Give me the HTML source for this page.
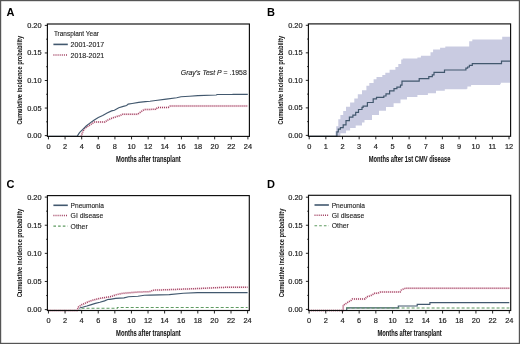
<!DOCTYPE html><html><head><meta charset="utf-8"><style>
html,body{margin:0;padding:0;background:#fff;}
svg{display:block;will-change:transform;}
.tk{font-family:"Liberation Sans", sans-serif;font-size:7.4px;fill:#1c1c1c;stroke:#1c1c1c;stroke-width:0.18px;}
.al{font-family:"Liberation Sans", sans-serif;font-size:8.2px;font-weight:bold;fill:#151515;stroke:#151515;stroke-width:0.06px;}
.yl{font-size:8px;stroke-width:0.05px;}
.lg{font-family:"Liberation Sans", sans-serif;font-size:7.4px;fill:#1c1c1c;stroke:#1c1c1c;stroke-width:0.12px;}
.pl{font-family:"Liberation Sans", sans-serif;font-size:11px;font-weight:bold;fill:#000;}
</style></head><body>
<svg width="520" height="344" viewBox="0 0 520 344">
<rect x="0" y="0" width="520" height="344" fill="#fff"/>
<path d="M334.80,136.30 L335.50,136.30 L335.50,131.00 L336.20,131.00 L336.20,126.30 L338.30,126.30 L338.30,119.30 L340.40,119.30 L340.40,115.10 L343.20,115.10 L343.20,110.90 L346.00,110.90 L346.00,106.70 L350.10,106.70 L350.10,102.60 L354.30,102.60 L354.30,98.40 L357.80,98.40 L357.80,94.20 L362.00,94.20 L362.00,90.20 L366.40,90.20 L366.40,85.80 L369.30,85.80 L369.30,82.90 L373.60,82.90 L373.60,79.30 L376.50,79.30 L376.50,77.10 L382.30,77.10 L382.30,74.90 L385.30,74.90 L385.30,72.70 L389.60,72.70 L389.60,69.80 L395.40,69.80 L395.40,66.90 L398.30,66.90 L398.30,64.00 L401.20,64.00 L401.20,59.60 L402.70,59.60 L402.70,58.50 L417.40,58.50 L417.40,57.40 L420.90,57.40 L420.90,55.70 L430.50,55.70 L430.50,52.20 L433.10,52.20 L433.10,49.60 L440.10,49.60 L440.10,47.80 L445.30,47.80 L445.30,46.60 L467.20,46.60 L467.20,46.40 L469.20,46.40 L469.20,41.30 L472.30,41.30 L472.30,39.40 L501.30,39.40 L501.30,39.40 L502.20,39.40 L502.20,36.70 L510.40,36.70 L510.40,36.70 L510.40,82.60 L510.40,82.80 L500.80,82.80 L500.80,84.20 L500.00,84.20 L500.00,85.00 L471.10,85.00 L471.10,86.60 L467.40,86.60 L467.40,88.80 L466.70,88.80 L466.70,89.20 L444.80,89.20 L444.80,90.80 L436.00,90.80 L436.00,93.20 L427.90,93.20 L427.90,95.00 L417.40,95.00 L417.40,96.90 L407.00,96.90 L407.00,99.50 L400.50,99.50 L400.50,103.20 L393.60,103.20 L393.60,107.00 L386.00,107.00 L386.00,110.80 L379.00,110.80 L379.00,115.00 L372.00,115.00 L372.00,120.00 L364.50,120.00 L364.50,122.50 L362.00,122.50 L362.00,125.40 L355.70,125.40 L355.70,128.00 L350.10,128.00 L350.10,130.50 L346.00,130.50 L346.00,133.30 L340.40,133.30 L340.40,136.30 L334.80,136.30Z" fill="#c9cbe1" stroke="none"/>
<path d="M81.20,136.40 L82.80,131.50 L85.00,128.20 L88.40,126.00 L91.70,123.80 L94.40,122.10 L104.90,122.10 L107.10,120.40 L110.50,118.80 L113.80,117.50 L116.60,116.60 L120.50,115.40 L122.20,114.30 L137.60,114.30 L139.80,112.70 L142.00,111.00 L144.30,109.50 L155.60,109.30 L157.70,107.50 L168.30,107.40 L170.40,106.00 L247.80,106.00" fill="none" stroke="#fbeef2" stroke-width="2.4"/>
<path d="M81.20,136.40 L82.80,131.50 L85.00,128.20 L88.40,126.00 L91.70,123.80 L94.40,122.10 L104.90,122.10 L107.10,120.40 L110.50,118.80 L113.80,117.50 L116.60,116.60 L120.50,115.40 L122.20,114.30 L137.60,114.30 L139.80,112.70 L142.00,111.00 L144.30,109.50 L155.60,109.30 L157.70,107.50 L168.30,107.40 L170.40,106.00 L247.80,106.00" fill="none" stroke="#a03f60" stroke-width="1.5" stroke-dasharray="1 1"/>
<path d="M48.40,136.40 L77.10,136.40 L79.50,132.60 L82.80,129.30 L86.20,126.00 L89.50,123.40 L93.90,120.20 L98.30,117.40 L102.70,115.40 L107.10,112.90 L111.60,110.90 L114.40,110.20 L118.80,107.70 L123.30,106.40 L126.60,105.50 L128.20,104.10 L132.10,103.50 L138.70,102.40 L145.40,101.60 L150.00,101.20 L155.60,100.50 L166.20,99.10 L176.70,97.70 L181.00,96.70 L189.40,96.20 L197.90,95.60 L216.20,95.00 L217.20,94.50 L232.00,94.50 L233.10,94.30 L247.80,94.30" fill="none" stroke="#42586e" stroke-width="1.15"/>
<path d="M309.20,136.30H334.80V136.30H336.90V131.90H338.30V129.10H340.40V127.70H343.20V124.90H346.00V120.70H349.40V117.20H352.90V115.10H355.70V112.30H358.50V109.50H362.00V107.40H363.10V106.20H367.40V102.50H373.20V98.90H376.50V97.40H383.80V96.00H386.00V93.80H389.60V90.90H394.00V88.70H396.90V87.20H400.50V85.10H402.00V81.20H418.30V81.20H419.20V78.70H427.90V78.70H428.80V76.60H432.30V74.90H434.00V72.30H443.60V72.30H444.50V70.00H465.30V70.00H465.90V68.20H467.60V67.00H469.40V65.30H472.30V63.60H500.80V63.60H501.50V61.20H510.40V61.20" fill="none" stroke="#42586e" stroke-width="1.2"/>
<path d="M48.40,310.20 L81.50,310.20 L81.50,308.30 L117.40,308.30 L117.40,307.50 L247.60,307.50" fill="none" stroke="#5e9a60" stroke-width="1.1" stroke-dasharray="3 2"/>
<path d="M48.40,310.50 L77.10,310.50 L79.40,307.90 L83.20,307.00 L86.90,306.00 L90.60,304.90 L95.30,303.40 L99.90,302.30 L104.60,300.90 L108.30,299.30 L110.00,299.30 L115.60,298.40 L124.00,297.90 L128.60,296.70 L137.90,296.30 L144.40,295.30 L150.00,295.10 L169.20,294.60 L183.40,293.20 L197.50,292.60 L247.60,292.60" fill="none" stroke="#42586e" stroke-width="1.15"/>
<path d="M48.40,310.50 L77.10,310.50 L78.50,307.00 L81.30,304.90 L85.00,303.30 L88.70,301.60 L92.50,300.30 L96.20,299.30 L99.90,298.40 L103.60,297.70 L107.30,297.20 L111.10,296.60 L115.60,294.90 L121.20,293.50 L128.60,292.80 L137.90,292.10 L150.00,291.60 L153.00,290.20 L181.30,289.20 L205.60,288.20 L221.70,287.40 L247.60,287.20" fill="none" stroke="#fbeef2" stroke-width="2.4"/>
<path d="M48.40,310.50 L77.10,310.50 L78.50,307.00 L81.30,304.90 L85.00,303.30 L88.70,301.60 L92.50,300.30 L96.20,299.30 L99.90,298.40 L103.60,297.70 L107.30,297.20 L111.10,296.60 L115.60,294.90 L121.20,293.50 L128.60,292.80 L137.90,292.10 L150.00,291.60 L153.00,290.20 L181.30,289.20 L205.60,288.20 L221.70,287.40 L247.60,287.20" fill="none" stroke="#a03f60" stroke-width="1.5" stroke-dasharray="1 1"/>
<path d="M309.10,310.50 L346.70,310.50 L346.70,307.80 L398.30,307.80 L398.30,306.00 L417.20,306.00 L417.20,304.30 L429.90,304.30 L429.90,302.60 L509.30,302.60" fill="none" stroke="#42586e" stroke-width="1.15"/>
<path d="M309.10,310.50 L346.70,310.50 L346.70,308.00 L509.30,308.00" fill="none" stroke="#5e9a60" stroke-width="1.1" stroke-dasharray="3 2"/>
<path d="M309.10,310.50 L343.20,310.50 L343.20,305.50 L345.00,304.20 L347.60,302.50 L351.10,300.30 L352.40,299.00 L365.00,299.00 L366.80,296.80 L369.40,296.00 L372.00,295.10 L374.60,293.30 L378.00,293.20 L380.70,291.90 L400.20,291.90 L401.10,290.20 L403.90,288.80 L405.80,288.20 L509.30,288.20" fill="none" stroke="#fbeef2" stroke-width="2.4"/>
<path d="M309.10,310.50 L343.20,310.50 L343.20,305.50 L345.00,304.20 L347.60,302.50 L351.10,300.30 L352.40,299.00 L365.00,299.00 L366.80,296.80 L369.40,296.00 L372.00,295.10 L374.60,293.30 L378.00,293.20 L380.70,291.90 L400.20,291.90 L401.10,290.20 L403.90,288.80 L405.80,288.20 L509.30,288.20" fill="none" stroke="#a03f60" stroke-width="1.5" stroke-dasharray="1 1"/>
<rect x="47.4" y="24.0" width="202.00" height="112.40" fill="none" stroke="#0d0d0d" stroke-width="1.15"/>
<line x1="44.80" y1="135.60" x2="47.4" y2="135.60" stroke="#0d0d0d" stroke-width="0.9"/>
<text x="41.60" y="138.10" text-anchor="end" class="tk">0.00</text>
<line x1="46.20" y1="121.82" x2="47.4" y2="121.82" stroke="#0d0d0d" stroke-width="0.9"/>
<line x1="44.80" y1="108.05" x2="47.4" y2="108.05" stroke="#0d0d0d" stroke-width="0.9"/>
<text x="41.60" y="110.55" text-anchor="end" class="tk">0.05</text>
<line x1="46.20" y1="94.28" x2="47.4" y2="94.28" stroke="#0d0d0d" stroke-width="0.9"/>
<line x1="44.80" y1="80.50" x2="47.4" y2="80.50" stroke="#0d0d0d" stroke-width="0.9"/>
<text x="41.60" y="83.00" text-anchor="end" class="tk">0.10</text>
<line x1="46.20" y1="66.73" x2="47.4" y2="66.73" stroke="#0d0d0d" stroke-width="0.9"/>
<line x1="44.80" y1="52.95" x2="47.4" y2="52.95" stroke="#0d0d0d" stroke-width="0.9"/>
<text x="41.60" y="55.45" text-anchor="end" class="tk">0.15</text>
<line x1="46.20" y1="39.18" x2="47.4" y2="39.18" stroke="#0d0d0d" stroke-width="0.9"/>
<line x1="44.80" y1="25.40" x2="47.4" y2="25.40" stroke="#0d0d0d" stroke-width="0.9"/>
<text x="41.60" y="27.90" text-anchor="end" class="tk">0.20</text>
<line x1="48.45" y1="136.4" x2="48.45" y2="139.40" stroke="#0d0d0d" stroke-width="0.9"/>
<text x="48.45" y="149.10" text-anchor="middle" class="tk">0</text>
<line x1="65.07" y1="136.4" x2="65.07" y2="139.40" stroke="#0d0d0d" stroke-width="0.9"/>
<text x="65.07" y="149.10" text-anchor="middle" class="tk">2</text>
<line x1="81.69" y1="136.4" x2="81.69" y2="139.40" stroke="#0d0d0d" stroke-width="0.9"/>
<text x="81.69" y="149.10" text-anchor="middle" class="tk">4</text>
<line x1="98.31" y1="136.4" x2="98.31" y2="139.40" stroke="#0d0d0d" stroke-width="0.9"/>
<text x="98.31" y="149.10" text-anchor="middle" class="tk">6</text>
<line x1="114.93" y1="136.4" x2="114.93" y2="139.40" stroke="#0d0d0d" stroke-width="0.9"/>
<text x="114.93" y="149.10" text-anchor="middle" class="tk">8</text>
<line x1="131.55" y1="136.4" x2="131.55" y2="139.40" stroke="#0d0d0d" stroke-width="0.9"/>
<text x="131.55" y="149.10" text-anchor="middle" class="tk">10</text>
<line x1="148.17" y1="136.4" x2="148.17" y2="139.40" stroke="#0d0d0d" stroke-width="0.9"/>
<text x="148.17" y="149.10" text-anchor="middle" class="tk">12</text>
<line x1="164.80" y1="136.4" x2="164.80" y2="139.40" stroke="#0d0d0d" stroke-width="0.9"/>
<text x="164.80" y="149.10" text-anchor="middle" class="tk">14</text>
<line x1="181.42" y1="136.4" x2="181.42" y2="139.40" stroke="#0d0d0d" stroke-width="0.9"/>
<text x="181.42" y="149.10" text-anchor="middle" class="tk">16</text>
<line x1="198.04" y1="136.4" x2="198.04" y2="139.40" stroke="#0d0d0d" stroke-width="0.9"/>
<text x="198.04" y="149.10" text-anchor="middle" class="tk">18</text>
<line x1="214.66" y1="136.4" x2="214.66" y2="139.40" stroke="#0d0d0d" stroke-width="0.9"/>
<text x="214.66" y="149.10" text-anchor="middle" class="tk">20</text>
<line x1="231.28" y1="136.4" x2="231.28" y2="139.40" stroke="#0d0d0d" stroke-width="0.9"/>
<text x="231.28" y="149.10" text-anchor="middle" class="tk">22</text>
<line x1="247.90" y1="136.4" x2="247.90" y2="139.40" stroke="#0d0d0d" stroke-width="0.9"/>
<text x="247.90" y="149.10" text-anchor="middle" class="tk">24</text>
<text x="148.40" y="161.90" text-anchor="middle" class="al" textLength="64.6" lengthAdjust="spacingAndGlyphs">Months after transplant</text>
<text transform="translate(22.40,80.20) rotate(-90)" x="0" y="0" text-anchor="middle" class="al yl" textLength="88.6" lengthAdjust="spacingAndGlyphs">Cumulative incidence probability</text>
<rect x="308.4" y="23.9" width="202.20" height="112.40" fill="none" stroke="#0d0d0d" stroke-width="1.15"/>
<line x1="305.80" y1="135.40" x2="308.4" y2="135.40" stroke="#0d0d0d" stroke-width="0.9"/>
<text x="302.60" y="137.90" text-anchor="end" class="tk">0.00</text>
<line x1="307.20" y1="121.64" x2="308.4" y2="121.64" stroke="#0d0d0d" stroke-width="0.9"/>
<line x1="305.80" y1="107.88" x2="308.4" y2="107.88" stroke="#0d0d0d" stroke-width="0.9"/>
<text x="302.60" y="110.38" text-anchor="end" class="tk">0.05</text>
<line x1="307.20" y1="94.11" x2="308.4" y2="94.11" stroke="#0d0d0d" stroke-width="0.9"/>
<line x1="305.80" y1="80.35" x2="308.4" y2="80.35" stroke="#0d0d0d" stroke-width="0.9"/>
<text x="302.60" y="82.85" text-anchor="end" class="tk">0.10</text>
<line x1="307.20" y1="66.59" x2="308.4" y2="66.59" stroke="#0d0d0d" stroke-width="0.9"/>
<line x1="305.80" y1="52.83" x2="308.4" y2="52.83" stroke="#0d0d0d" stroke-width="0.9"/>
<text x="302.60" y="55.33" text-anchor="end" class="tk">0.15</text>
<line x1="307.20" y1="39.06" x2="308.4" y2="39.06" stroke="#0d0d0d" stroke-width="0.9"/>
<line x1="305.80" y1="25.30" x2="308.4" y2="25.30" stroke="#0d0d0d" stroke-width="0.9"/>
<text x="302.60" y="27.80" text-anchor="end" class="tk">0.20</text>
<line x1="309.20" y1="136.3" x2="309.20" y2="139.30" stroke="#0d0d0d" stroke-width="0.9"/>
<text x="309.20" y="149.00" text-anchor="middle" class="tk">0</text>
<line x1="325.85" y1="136.3" x2="325.85" y2="139.30" stroke="#0d0d0d" stroke-width="0.9"/>
<text x="325.85" y="149.00" text-anchor="middle" class="tk">1</text>
<line x1="342.50" y1="136.3" x2="342.50" y2="139.30" stroke="#0d0d0d" stroke-width="0.9"/>
<text x="342.50" y="149.00" text-anchor="middle" class="tk">2</text>
<line x1="359.15" y1="136.3" x2="359.15" y2="139.30" stroke="#0d0d0d" stroke-width="0.9"/>
<text x="359.15" y="149.00" text-anchor="middle" class="tk">3</text>
<line x1="375.80" y1="136.3" x2="375.80" y2="139.30" stroke="#0d0d0d" stroke-width="0.9"/>
<text x="375.80" y="149.00" text-anchor="middle" class="tk">4</text>
<line x1="392.45" y1="136.3" x2="392.45" y2="139.30" stroke="#0d0d0d" stroke-width="0.9"/>
<text x="392.45" y="149.00" text-anchor="middle" class="tk">5</text>
<line x1="409.10" y1="136.3" x2="409.10" y2="139.30" stroke="#0d0d0d" stroke-width="0.9"/>
<text x="409.10" y="149.00" text-anchor="middle" class="tk">6</text>
<line x1="425.75" y1="136.3" x2="425.75" y2="139.30" stroke="#0d0d0d" stroke-width="0.9"/>
<text x="425.75" y="149.00" text-anchor="middle" class="tk">7</text>
<line x1="442.40" y1="136.3" x2="442.40" y2="139.30" stroke="#0d0d0d" stroke-width="0.9"/>
<text x="442.40" y="149.00" text-anchor="middle" class="tk">8</text>
<line x1="459.05" y1="136.3" x2="459.05" y2="139.30" stroke="#0d0d0d" stroke-width="0.9"/>
<text x="459.05" y="149.00" text-anchor="middle" class="tk">9</text>
<line x1="475.70" y1="136.3" x2="475.70" y2="139.30" stroke="#0d0d0d" stroke-width="0.9"/>
<text x="475.70" y="149.00" text-anchor="middle" class="tk">10</text>
<line x1="492.35" y1="136.3" x2="492.35" y2="139.30" stroke="#0d0d0d" stroke-width="0.9"/>
<text x="492.35" y="149.00" text-anchor="middle" class="tk">11</text>
<line x1="509.00" y1="136.3" x2="509.00" y2="139.30" stroke="#0d0d0d" stroke-width="0.9"/>
<text x="509.00" y="149.00" text-anchor="middle" class="tk">12</text>
<text x="409.50" y="161.80" text-anchor="middle" class="al" textLength="81.7" lengthAdjust="spacingAndGlyphs">Months after 1st CMV disease</text>
<text transform="translate(283.40,80.10) rotate(-90)" x="0" y="0" text-anchor="middle" class="al yl" textLength="88.6" lengthAdjust="spacingAndGlyphs">Cumulative incidence probability</text>
<rect x="47.4" y="195.6" width="201.90" height="114.90" fill="none" stroke="#0d0d0d" stroke-width="1.15"/>
<line x1="44.80" y1="309.60" x2="47.4" y2="309.60" stroke="#0d0d0d" stroke-width="0.9"/>
<text x="41.60" y="312.10" text-anchor="end" class="tk">0.00</text>
<line x1="46.20" y1="295.54" x2="47.4" y2="295.54" stroke="#0d0d0d" stroke-width="0.9"/>
<line x1="44.80" y1="281.48" x2="47.4" y2="281.48" stroke="#0d0d0d" stroke-width="0.9"/>
<text x="41.60" y="283.98" text-anchor="end" class="tk">0.05</text>
<line x1="46.20" y1="267.41" x2="47.4" y2="267.41" stroke="#0d0d0d" stroke-width="0.9"/>
<line x1="44.80" y1="253.35" x2="47.4" y2="253.35" stroke="#0d0d0d" stroke-width="0.9"/>
<text x="41.60" y="255.85" text-anchor="end" class="tk">0.10</text>
<line x1="46.20" y1="239.29" x2="47.4" y2="239.29" stroke="#0d0d0d" stroke-width="0.9"/>
<line x1="44.80" y1="225.23" x2="47.4" y2="225.23" stroke="#0d0d0d" stroke-width="0.9"/>
<text x="41.60" y="227.73" text-anchor="end" class="tk">0.15</text>
<line x1="46.20" y1="211.16" x2="47.4" y2="211.16" stroke="#0d0d0d" stroke-width="0.9"/>
<line x1="44.80" y1="197.10" x2="47.4" y2="197.10" stroke="#0d0d0d" stroke-width="0.9"/>
<text x="41.60" y="199.60" text-anchor="end" class="tk">0.20</text>
<line x1="48.45" y1="310.5" x2="48.45" y2="313.50" stroke="#0d0d0d" stroke-width="0.9"/>
<text x="48.45" y="323.20" text-anchor="middle" class="tk">0</text>
<line x1="65.05" y1="310.5" x2="65.05" y2="313.50" stroke="#0d0d0d" stroke-width="0.9"/>
<text x="65.05" y="323.20" text-anchor="middle" class="tk">2</text>
<line x1="81.64" y1="310.5" x2="81.64" y2="313.50" stroke="#0d0d0d" stroke-width="0.9"/>
<text x="81.64" y="323.20" text-anchor="middle" class="tk">4</text>
<line x1="98.24" y1="310.5" x2="98.24" y2="313.50" stroke="#0d0d0d" stroke-width="0.9"/>
<text x="98.24" y="323.20" text-anchor="middle" class="tk">6</text>
<line x1="114.83" y1="310.5" x2="114.83" y2="313.50" stroke="#0d0d0d" stroke-width="0.9"/>
<text x="114.83" y="323.20" text-anchor="middle" class="tk">8</text>
<line x1="131.43" y1="310.5" x2="131.43" y2="313.50" stroke="#0d0d0d" stroke-width="0.9"/>
<text x="131.43" y="323.20" text-anchor="middle" class="tk">10</text>
<line x1="148.02" y1="310.5" x2="148.02" y2="313.50" stroke="#0d0d0d" stroke-width="0.9"/>
<text x="148.02" y="323.20" text-anchor="middle" class="tk">12</text>
<line x1="164.62" y1="310.5" x2="164.62" y2="313.50" stroke="#0d0d0d" stroke-width="0.9"/>
<text x="164.62" y="323.20" text-anchor="middle" class="tk">14</text>
<line x1="181.22" y1="310.5" x2="181.22" y2="313.50" stroke="#0d0d0d" stroke-width="0.9"/>
<text x="181.22" y="323.20" text-anchor="middle" class="tk">16</text>
<line x1="197.81" y1="310.5" x2="197.81" y2="313.50" stroke="#0d0d0d" stroke-width="0.9"/>
<text x="197.81" y="323.20" text-anchor="middle" class="tk">18</text>
<line x1="214.41" y1="310.5" x2="214.41" y2="313.50" stroke="#0d0d0d" stroke-width="0.9"/>
<text x="214.41" y="323.20" text-anchor="middle" class="tk">20</text>
<line x1="231.00" y1="310.5" x2="231.00" y2="313.50" stroke="#0d0d0d" stroke-width="0.9"/>
<text x="231.00" y="323.20" text-anchor="middle" class="tk">22</text>
<line x1="247.60" y1="310.5" x2="247.60" y2="313.50" stroke="#0d0d0d" stroke-width="0.9"/>
<text x="247.60" y="323.20" text-anchor="middle" class="tk">24</text>
<text x="148.35" y="336.00" text-anchor="middle" class="al" textLength="64.6" lengthAdjust="spacingAndGlyphs">Months after transplant</text>
<text transform="translate(22.40,253.05) rotate(-90)" x="0" y="0" text-anchor="middle" class="al yl" textLength="88.6" lengthAdjust="spacingAndGlyphs">Cumulative incidence probability</text>
<rect x="308.5" y="195.3" width="202.20" height="115.20" fill="none" stroke="#0d0d0d" stroke-width="1.15"/>
<line x1="305.90" y1="309.40" x2="308.5" y2="309.40" stroke="#0d0d0d" stroke-width="0.9"/>
<text x="302.70" y="311.90" text-anchor="end" class="tk">0.00</text>
<line x1="307.30" y1="295.38" x2="308.5" y2="295.38" stroke="#0d0d0d" stroke-width="0.9"/>
<line x1="305.90" y1="281.35" x2="308.5" y2="281.35" stroke="#0d0d0d" stroke-width="0.9"/>
<text x="302.70" y="283.85" text-anchor="end" class="tk">0.05</text>
<line x1="307.30" y1="267.32" x2="308.5" y2="267.32" stroke="#0d0d0d" stroke-width="0.9"/>
<line x1="305.90" y1="253.30" x2="308.5" y2="253.30" stroke="#0d0d0d" stroke-width="0.9"/>
<text x="302.70" y="255.80" text-anchor="end" class="tk">0.10</text>
<line x1="307.30" y1="239.27" x2="308.5" y2="239.27" stroke="#0d0d0d" stroke-width="0.9"/>
<line x1="305.90" y1="225.25" x2="308.5" y2="225.25" stroke="#0d0d0d" stroke-width="0.9"/>
<text x="302.70" y="227.75" text-anchor="end" class="tk">0.15</text>
<line x1="307.30" y1="211.22" x2="308.5" y2="211.22" stroke="#0d0d0d" stroke-width="0.9"/>
<line x1="305.90" y1="197.20" x2="308.5" y2="197.20" stroke="#0d0d0d" stroke-width="0.9"/>
<text x="302.70" y="199.70" text-anchor="end" class="tk">0.20</text>
<line x1="309.10" y1="310.5" x2="309.10" y2="313.50" stroke="#0d0d0d" stroke-width="0.9"/>
<text x="309.10" y="323.20" text-anchor="middle" class="tk">0</text>
<line x1="325.78" y1="310.5" x2="325.78" y2="313.50" stroke="#0d0d0d" stroke-width="0.9"/>
<text x="325.78" y="323.20" text-anchor="middle" class="tk">2</text>
<line x1="342.47" y1="310.5" x2="342.47" y2="313.50" stroke="#0d0d0d" stroke-width="0.9"/>
<text x="342.47" y="323.20" text-anchor="middle" class="tk">4</text>
<line x1="359.15" y1="310.5" x2="359.15" y2="313.50" stroke="#0d0d0d" stroke-width="0.9"/>
<text x="359.15" y="323.20" text-anchor="middle" class="tk">6</text>
<line x1="375.83" y1="310.5" x2="375.83" y2="313.50" stroke="#0d0d0d" stroke-width="0.9"/>
<text x="375.83" y="323.20" text-anchor="middle" class="tk">8</text>
<line x1="392.52" y1="310.5" x2="392.52" y2="313.50" stroke="#0d0d0d" stroke-width="0.9"/>
<text x="392.52" y="323.20" text-anchor="middle" class="tk">10</text>
<line x1="409.20" y1="310.5" x2="409.20" y2="313.50" stroke="#0d0d0d" stroke-width="0.9"/>
<text x="409.20" y="323.20" text-anchor="middle" class="tk">12</text>
<line x1="425.88" y1="310.5" x2="425.88" y2="313.50" stroke="#0d0d0d" stroke-width="0.9"/>
<text x="425.88" y="323.20" text-anchor="middle" class="tk">14</text>
<line x1="442.57" y1="310.5" x2="442.57" y2="313.50" stroke="#0d0d0d" stroke-width="0.9"/>
<text x="442.57" y="323.20" text-anchor="middle" class="tk">16</text>
<line x1="459.25" y1="310.5" x2="459.25" y2="313.50" stroke="#0d0d0d" stroke-width="0.9"/>
<text x="459.25" y="323.20" text-anchor="middle" class="tk">18</text>
<line x1="475.93" y1="310.5" x2="475.93" y2="313.50" stroke="#0d0d0d" stroke-width="0.9"/>
<text x="475.93" y="323.20" text-anchor="middle" class="tk">20</text>
<line x1="492.62" y1="310.5" x2="492.62" y2="313.50" stroke="#0d0d0d" stroke-width="0.9"/>
<text x="492.62" y="323.20" text-anchor="middle" class="tk">22</text>
<line x1="509.30" y1="310.5" x2="509.30" y2="313.50" stroke="#0d0d0d" stroke-width="0.9"/>
<text x="509.30" y="323.20" text-anchor="middle" class="tk">24</text>
<text x="409.60" y="336.00" text-anchor="middle" class="al" textLength="64.3" lengthAdjust="spacingAndGlyphs">Months after transplant</text>
<text transform="translate(283.50,252.90) rotate(-90)" x="0" y="0" text-anchor="middle" class="al yl" textLength="88.6" lengthAdjust="spacingAndGlyphs">Cumulative incidence probability</text>
<text x="53.90" y="36.10" class="lg" textLength="45" lengthAdjust="spacingAndGlyphs">Transplant Year</text>
<line x1="53.40" y1="44.40" x2="67.80" y2="44.40" stroke="#42586e" stroke-width="1.6"/>
<text x="70.60" y="46.90" class="lg" textLength="33.6" lengthAdjust="spacingAndGlyphs">2001-2017</text>
<line x1="53.40" y1="55.00" x2="67.80" y2="55.00" stroke="#a03f60" stroke-width="1.5" stroke-dasharray="1 1.1"/>
<text x="70.60" y="57.50" class="lg" textLength="33.6" lengthAdjust="spacingAndGlyphs">2018-2021</text>
<line x1="53.40" y1="205.30" x2="67.80" y2="205.30" stroke="#42586e" stroke-width="1.6"/>
<text x="70.60" y="207.80" class="lg" textLength="33.3" lengthAdjust="spacingAndGlyphs">Pneumonia</text>
<line x1="53.40" y1="215.50" x2="67.80" y2="215.50" stroke="#a03f60" stroke-width="1.5" stroke-dasharray="1 1.1"/>
<text x="70.60" y="218.00" class="lg" textLength="32.6" lengthAdjust="spacingAndGlyphs">GI disease</text>
<line x1="53.40" y1="226.10" x2="67.80" y2="226.10" stroke="#5e9a60" stroke-width="1.1" stroke-dasharray="2.6 2.1"/>
<text x="70.60" y="228.60" class="lg" textLength="17.1" lengthAdjust="spacingAndGlyphs">Other</text>
<line x1="314.50" y1="205.00" x2="328.90" y2="205.00" stroke="#42586e" stroke-width="1.6"/>
<text x="331.70" y="207.50" class="lg" textLength="33.3" lengthAdjust="spacingAndGlyphs">Pneumonia</text>
<line x1="314.50" y1="215.20" x2="328.90" y2="215.20" stroke="#a03f60" stroke-width="1.5" stroke-dasharray="1 1.1"/>
<text x="331.70" y="217.70" class="lg" textLength="32.6" lengthAdjust="spacingAndGlyphs">GI disease</text>
<line x1="314.50" y1="225.80" x2="328.90" y2="225.80" stroke="#5e9a60" stroke-width="1.1" stroke-dasharray="2.6 2.1"/>
<text x="331.70" y="228.30" class="lg" textLength="17.1" lengthAdjust="spacingAndGlyphs">Other</text>
<text x="180.8" y="75.1" class="lg" textLength="66" lengthAdjust="spacingAndGlyphs"><tspan font-style="italic">Gray's Test P</tspan> = .1958</text>
<text x="6.6" y="15.6" class="pl">A</text>
<text x="267.0" y="15.6" class="pl">B</text>
<text x="6.6" y="187.5" class="pl">C</text>
<text x="267.0" y="187.5" class="pl">D</text>
<rect x="0.6" y="0.6" width="518.8" height="342.8" fill="none" stroke="#555" stroke-width="1.2"/>
</svg></body></html>
